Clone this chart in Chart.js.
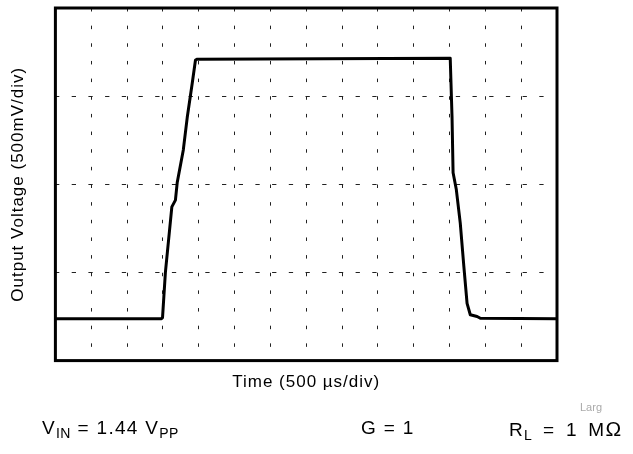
<!DOCTYPE html>
<html lang="en">
<head>
<meta charset="UTF-8">
<title>Output Voltage vs Time</title>
<script src="https://cdn.jsdelivr.net/npm/chart.js"></script>
<style>
  body { margin: 0; background: #fff; font-family: "Liberation Sans", Arial, sans-serif; }
  .wrap { position: relative; width: 633px; height: 454px; overflow: hidden; }
  canvas { position: absolute; left: 0; top: 0; }
  .note { position: absolute; font-size: 19px; color: #000; white-space: nowrap; line-height: 1; letter-spacing: 1.3px; }
  .note sub { font-size: 14px; vertical-align: -4px; line-height: 0; letter-spacing: 0.5px; }
  .note.wide { word-spacing: 4px; }
  .note .ohm { font-size: 21px; }
  .ghost { position: absolute; font-size: 11px; color: #aaa; line-height: 1; }
</style>
</head>
<body>
<div class="wrap">
  <canvas id="scope" width="633" height="454"></canvas>
  <div class="ghost" style="left:580px; top:402px">Larg</div>
  <div class="note" style="left:42px; top:418px">V<sub>IN</sub> = 1.44 V<sub>PP</sub></div>
  <div class="note" style="left:361px; top:418px">G = 1</div>
  <div class="note wide" style="left:509px; top:418px">R<sub>L</sub> = 1 M<span class="ohm">&Omega;</span></div>
</div>
<script>
// trace: 500 us/div, 500 mV/div
const time_us = [0, 1480, 1495, 1535, 1625, 1675, 1700, 1785, 1840, 1910, 1955, 1980,
                 5510, 5535, 5550, 5595, 5650, 5700, 5745, 5790, 5885, 5930, 7000];
const vout_mV = [238, 238, 244, 500, 872, 910, 1010, 1195, 1380, 1575, 1705, 1710,
                 1715, 1385, 1065, 970, 780, 535, 325, 260, 250, 240, 238];

const xDiv = 500, xMax = 7000;
const yDiv = 500, yMax = 2000;

// solid frame round the plot area, and a bit of letter spacing for the axis titles
const frame = {
    id: 'frame',
    beforeDraw(chart) {
        chart.ctx.letterSpacing = '1px';
    },
    afterDraw(chart) {
        const a = chart.chartArea, ctx = chart.ctx;
        ctx.save();
        ctx.strokeStyle = '#000';
        ctx.lineWidth = 3;
        ctx.strokeRect(a.left, a.top, a.right - a.left, a.bottom - a.top);
        ctx.restore();
    }
};

const points = time_us.map((t, i) => ({ x: t, y: vout_mV[i] }));

new Chart(document.getElementById('scope'), {
    type: 'line',
    data: {
        datasets: [{
            data: points,
            borderColor: '#000',
            borderWidth: 3,
            pointRadius: 0,
            tension: 0,
            borderJoinStyle: 'round'
        }]
    },
    options: {
        responsive: false,
        animation: false,
        layout: { padding: { left: 0, right: 76, top: 8, bottom: 57 } },
        plugins: { legend: { display: false }, tooltip: { enabled: false } },
        scales: {
            x: {
                type: 'linear', min: 0, max: xMax,
                ticks: { display: false, stepSize: xDiv },
                grid: { color: '#222', lineWidth: 1, drawTicks: false },
                border: { display: false, dash: [3.5, 14.15] },
                title: {
                    display: true, text: 'Time (500 \u00b5s/div)', color: '#000',
                    font: { family: 'Liberation Sans', size: 17 },
                    padding: { top: 12, bottom: 4 }
                }
            },
            y: {
                min: 0, max: yMax,
                ticks: { display: false, stepSize: yDiv },
                grid: { color: '#222', lineWidth: 1, drawTicks: false },
                border: { display: false, dash: [4.3, 12.4] },
                title: {
                    display: true, text: 'Output Voltage (500mV/div)', color: '#000',
                    font: { family: 'Liberation Sans', size: 17 },
                    padding: { top: 8, bottom: 27 }
                }
            }
        }
    },
    plugins: [frame]
});
</script>
</body>
</html>
